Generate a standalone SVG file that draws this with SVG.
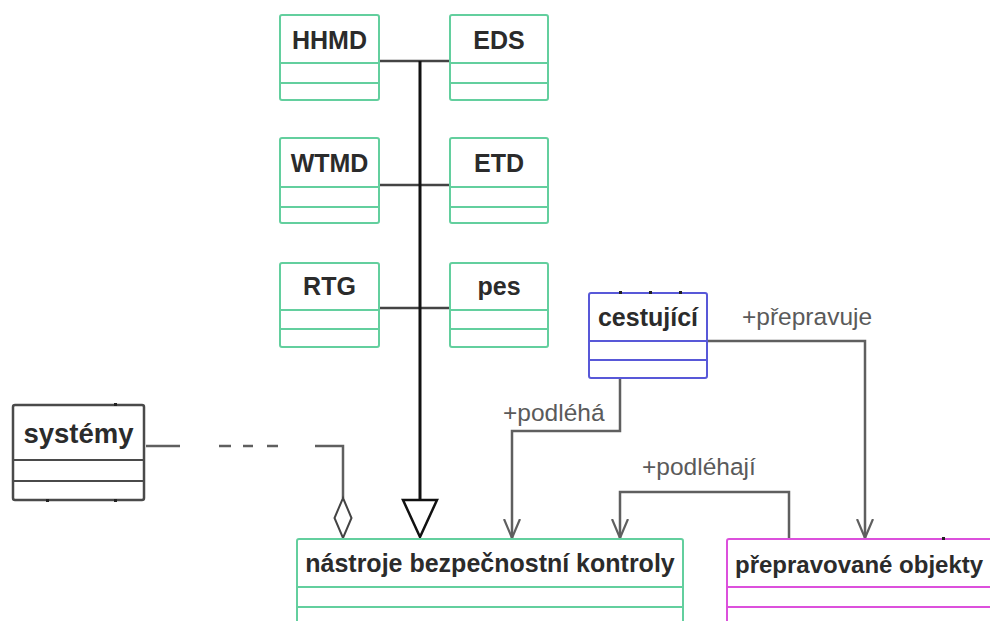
<svg xmlns="http://www.w3.org/2000/svg" width="990" height="621" viewBox="0 0 990 621">
  <style>
    .cls { fill: #ffffff; stroke-width: 2; }
    .green { stroke: #63cf9e; }
    .blue { stroke: #5858d8; }
    .pink { stroke: #dc50dc; }
    .dark { stroke: #4a4a4a; stroke-width: 2.5; }
    .sep { fill: none; stroke-width: 2; }
    .name { font-family: "Liberation Sans", Arial, sans-serif; font-weight: bold; font-size: 25px; fill: #2b2b2b; text-anchor: middle; }
    .role { font-family: "Liberation Sans", Arial, sans-serif; font-size: 24.5px; fill: #5a5a5a; }
    .assoc { fill: none; stroke: #5f5f5f; stroke-width: 2.5; }
    .link { fill: none; stroke: #444444; stroke-width: 2.5; }
    .gen { fill: none; stroke: #111111; stroke-width: 3; }
    .tick { fill: #222222; }
  </style>
  <defs>
    <marker id="open" viewBox="0 0 20 18" refX="19" refY="9" markerWidth="20" markerHeight="18" markerUnits="userSpaceOnUse" orient="auto">
      <path d="M0,1 L19,9 L0,17" fill="none" stroke="#5f5f5f" stroke-width="2.2"/>
    </marker>
  </defs>

  <!-- connectors -->
  <g id="connectors">
    <!-- sibling links to the generalization trunk -->
    <line class="link" x1="379" y1="61" x2="450" y2="61"/>
    <line class="link" x1="379" y1="185" x2="450" y2="185"/>
    <line class="link" x1="379" y1="308" x2="450" y2="308"/>
    <!-- generalization trunk with hollow triangle -->
    <line class="gen" x1="420" y1="61" x2="420" y2="500"/>
    <polygon points="403,500 437,500 420,537" fill="#ffffff" stroke="#111111" stroke-width="2.5" stroke-linejoin="miter"/>
    <!-- systémy aggregation -->
    <line class="assoc" x1="146" y1="446" x2="180" y2="446"/>
    <line class="assoc" x1="219" y1="446" x2="231" y2="446"/>
    <line class="assoc" x1="243" y1="446" x2="253" y2="446"/>
    <line class="assoc" x1="267" y1="446" x2="278" y2="446"/>
    <polyline class="assoc" points="315,446 343,446 343,498"/>
    <polygon points="343,498 351.5,518 343,538 334.5,518" fill="#ffffff" stroke="#444444" stroke-width="2"/>
    <!-- +podléhá -->
    <polyline class="assoc" points="620,378 620,431 512,431 512,538" marker-end="url(#open)"/>
    <!-- +přepravuje -->
    <polyline class="assoc" points="707,341 865,341 865,538" marker-end="url(#open)"/>
    <!-- +podléhají -->
    <polyline class="assoc" points="789,539 789,492 620,492 620,538" marker-end="url(#open)"/>
    <text class="role" x="503" y="421">+podléhá</text>
    <text class="role" x="742" y="325">+přepravuje</text>
    <text class="role" x="642" y="475">+podléhají</text>
  </g>

  <g id="HHMD">
    <rect class="cls green" x="280" y="15" width="99" height="85" rx="2"/>
    <path class="sep green" d="M280,63 H379 M280,83 H379"/>
    <text class="name" x="329.5" y="49">HHMD</text>
  </g>
  <g id="EDS">
    <rect class="cls green" x="450" y="15" width="98" height="85" rx="2"/>
    <path class="sep green" d="M450,63 H548 M450,83 H548"/>
    <text class="name" x="499" y="49">EDS</text>
  </g>
  <g id="WTMD">
    <rect class="cls green" x="280" y="138" width="99" height="85" rx="2"/>
    <path class="sep green" d="M280,187 H379 M280,207 H379"/>
    <text class="name" x="329.5" y="172">WTMD</text>
  </g>
  <g id="ETD">
    <rect class="cls green" x="450" y="138" width="98" height="85" rx="2"/>
    <path class="sep green" d="M450,187 H548 M450,207 H548"/>
    <text class="name" x="499" y="172">ETD</text>
  </g>
  <g id="RTG">
    <rect class="cls green" x="280" y="263" width="99" height="84" rx="2"/>
    <path class="sep green" d="M280,310 H379 M280,329 H379"/>
    <text class="name" x="329.5" y="295">RTG</text>
  </g>
  <g id="pes">
    <rect class="cls green" x="450" y="263" width="98" height="84" rx="2"/>
    <path class="sep green" d="M450,310 H548 M450,329 H548"/>
    <text class="name" x="499" y="295">pes</text>
  </g>

  <g id="cestujici">
    <rect class="cls blue" x="589" y="293" width="118" height="85" rx="2"/>
    <path class="sep blue" d="M589,341 H707 M589,360 H707"/>
    <text class="name" x="648" y="326">cestující</text>
    <rect class="tick" x="619" y="291" width="3" height="3"/>
    <rect class="tick" x="649" y="291" width="3" height="3"/>
    <rect class="tick" x="679" y="291" width="3" height="3"/>
  </g>

  <g id="systemy">
    <rect class="cls dark" x="13" y="405" width="131" height="95" rx="2"/>
    <path class="sep" stroke="#4a4a4a" stroke-width="2.5" d="M13,460 H144 M13,481 H144"/>
    <text class="name" x="78.5" y="443" style="font-size:27.5px">systémy</text>
    <rect class="tick" x="114" y="403" width="3" height="3"/>
    <rect class="tick" x="46" y="499" width="3" height="3"/>
    <rect class="tick" x="114" y="499" width="3" height="3"/>
  </g>

  <g id="nastroje">
    <rect class="cls green" x="297" y="539" width="386" height="100" rx="2"/>
    <path class="sep green" d="M297,587 H683 M297,607 H683"/>
    <text class="name" x="490" y="572">nástroje bezpečnostní kontroly</text>
  </g>

  <g id="prepravovane">
    <rect class="cls pink" x="727" y="539" width="280" height="100" rx="2"/>
    <path class="sep pink" d="M727,587 H1000 M727,607 H1000"/>
    <text class="name" x="735" y="573" style="text-anchor:start;font-size:24px">přepravované objekty</text>
    <rect class="tick" x="942" y="537" width="3" height="3"/>
  </g>
</svg>
